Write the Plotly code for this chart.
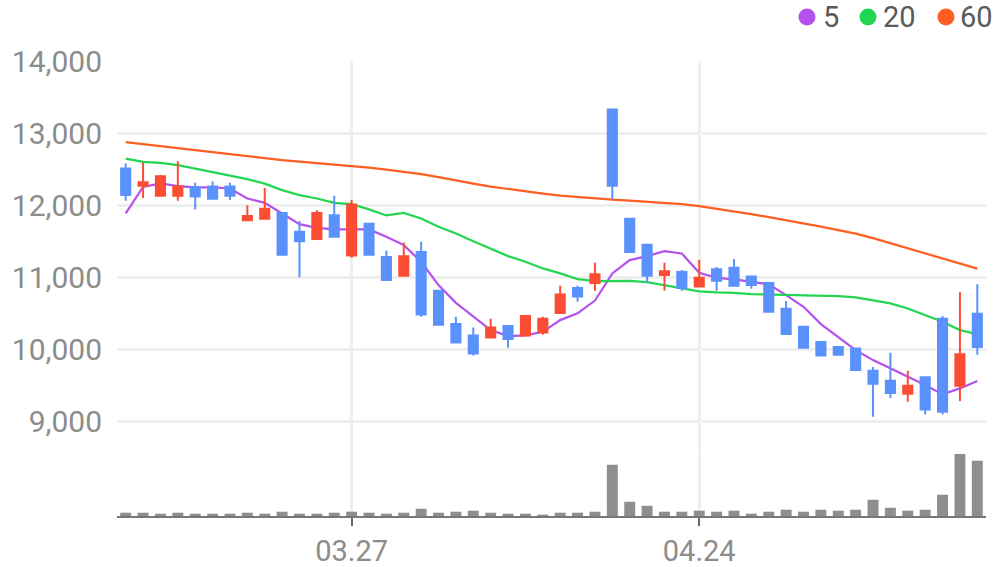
import plotly.graph_objects as go

dates = ["03.10", "03.11", "03.12", "03.13", "03.14", "03.17", "03.18", "03.19", "03.20", "03.21",
         "03.24", "03.25", "03.26", "03.27", "03.28", "03.31", "04.01", "04.02", "04.03", "04.04",
         "04.07", "04.08", "04.09", "04.10", "04.11", "04.14", "04.15", "04.16", "04.17", "04.18",
         "04.21", "04.22", "04.23", "04.24", "04.25", "04.28", "04.29", "04.30", "05.02", "05.07",
         "05.08", "05.09", "05.12", "05.13", "05.14", "05.15", "05.16", "05.19", "05.20", "05.21"]

open_ = [12510, 12270, 12130, 12130, 12250, 12260, 12260, 11790, 11810, 11890,
         11630, 11530, 11860, 11300, 11740, 11280, 11020, 11350, 10810, 10350,
         10190, 10160, 10320, 10190, 10230, 10500, 10850, 10920, 13330, 11810,
         11450, 11030, 11070, 10870, 11110, 11130, 11010, 10920, 10560, 10310,
         10100, 10030, 10010, 9700, 9560, 9380, 9610, 10420, 9490, 10490]
high = [12580, 12590, 12420, 12610, 12310, 12330, 12310, 12000, 12240, 11900,
        11780, 11930, 12130, 12070, 11750, 11370, 11480, 11490, 10810, 10450,
        10300, 10420, 10330, 10460, 10450, 10880, 10880, 11200, 13340, 11810,
        11450, 11200, 11100, 11240, 11140, 11250, 11020, 10920, 10670, 10310,
        10100, 10030, 10020, 9750, 9950, 9700, 9620, 10460, 10790, 10900]
low = [12060, 12100, 12120, 12060, 11940, 12080, 12070, 11780, 11800, 11300,
       11000, 11520, 11550, 11270, 11300, 10950, 11010, 10450, 10330, 10080,
       9910, 10150, 10020, 10180, 10200, 10490, 10660, 10810, 12080, 11350,
       10920, 10810, 10810, 10860, 10810, 10870, 10840, 10510, 10210, 10010,
       9900, 9910, 9710, 9060, 9320, 9270, 9090, 9090, 9280, 9920]
close = [12140, 12320, 12400, 12260, 12120, 12090, 12130, 11850, 11950, 11310,
         11500, 11890, 11560, 12010, 11310, 10960, 11290, 10480, 10340, 10090,
         9940, 10300, 10140, 10460, 10420, 10760, 10730, 11040, 12270, 11350,
         11020, 11080, 10850, 10990, 10950, 10880, 10890, 10520, 10210, 10020,
         9910, 9920, 9710, 9520, 9390, 9490, 9160, 9130, 9930, 10030]

ma5 = [11885, 12254, 12302, 12264, 12246, 12246, 12232, 12093, 12032, 11885,
       11736, 11685, 11663, 11663, 11663, 11560, 11445, 11213, 10889, 10643,
       10458, 10264, 10181, 10190, 10240, 10403, 10496, 10674, 11052, 11236,
       11292, 11361, 11329, 11060, 10990, 10968, 10935, 10899, 10750, 10588,
       10347, 10163, 9986, 9847, 9732, 9615, 9500, 9371, 9454, 9556]
ma20 = [12646, 12602, 12588, 12556, 12507, 12459, 12410, 12361, 12299, 12209,
        12139, 12093, 12032, 12014, 11941, 11857, 11893, 11816, 11699, 11607,
        11500, 11399, 11292, 11213, 11121, 11052, 10972, 10945, 10949, 10949,
        10931, 10889, 10852, 10802, 10788, 10782, 10764, 10760, 10750, 10746,
        10743, 10736, 10718, 10681, 10635, 10565, 10472, 10379, 10264, 10208]
ma60 = [12875, 12847, 12820, 12792, 12757, 12736, 12709, 12681, 12653, 12625,
        12604, 12584, 12563, 12542, 12521, 12493, 12466, 12431, 12389, 12341,
        12299, 12257, 12223, 12188, 12160, 12132, 12111, 12091, 12077, 12063,
        12049, 12035, 12014, 11986, 11952, 11917, 11875, 11834, 11792, 11750,
        11702, 11653, 11604, 11542, 11472, 11403, 11334, 11257, 11188, 11118]

volume = [66, 66, 46, 66, 46, 46, 46, 66, 46, 86,
          46, 46, 66, 86, 66, 46, 66, 146, 66, 86,
          106, 66, 46, 46, 26, 66, 66, 86, 1026, 286,
          206, 86, 86, 106, 86, 106, 46, 86, 126, 86,
          126, 106, 126, 326, 166, 106, 126, 426, 1246, 1106]

ma_names = ["5", "20", "60"]
ma_colors = ["#B451EC", "#23D652", "#FF5E22"]
x_ticks = ["03.27", "04.24"]
y_ticks = [9000, 10000, 11000, 12000, 13000, 14000]

RED = "#FA4D33"
BLUE = "#5B91FA"
GRAY_VOL = "#8E8E8E"

fig = go.Figure()

# volume
fig.add_trace(go.Bar(x=dates, y=volume, marker=dict(color=GRAY_VOL, line=dict(width=0)),
                     yaxis="y2", showlegend=False, hoverinfo="skip"))

# moving averages (under the candles)
for name, series, col in zip(ma_names, [ma5, ma20, ma60], ma_colors):
    fig.add_trace(go.Scatter(x=dates, y=series, mode="lines", line=dict(color=col, width=2.2),
                             showlegend=False, name=name, yaxis="y"))

# candles on overlay axis so they sit above the lines
fig.add_trace(go.Candlestick(
    x=dates, open=open_, high=high, low=low, close=close, yaxis="y3",
    increasing=dict(line=dict(color=RED, width=2), fillcolor=RED),
    decreasing=dict(line=dict(color=BLUE, width=2), fillcolor=BLUE),
    whiskerwidth=0, showlegend=False))

# legend drawn as circle shapes + text labels (top right)
L, R, T, B = 117, 986, 61, 516
def px_x(px):
    return (px - L) / (R - L)
def px_y(py):
    return (B - py) / (B - T)

legend_circle_px = [807, 868, 946]
legend_text_px = [822, 882, 959]
shapes = []
annotations = []
for name, col, cx, tx in zip(ma_names, ma_colors, legend_circle_px, legend_text_px):
    shapes.append(dict(type="circle", xref="paper", yref="paper",
                       xsizemode="pixel", ysizemode="pixel",
                       xanchor=px_x(cx), yanchor=px_y(17),
                       x0=-8.5, x1=8.5, y0=-8.5, y1=8.5,
                       fillcolor=col, line=dict(width=0)))
    annotations.append(dict(text=name, xref="paper", yref="paper",
                            x=px_x(tx), y=px_y(17), xanchor="left", yanchor="middle",
                            showarrow=False, borderpad=0,
                            font=dict(size=29, color="#5a5a5a")))

yr = [7681, 14003]
fig.update_layout(
    width=996, height=567,
    margin=dict(l=L, r=996 - R, t=T, b=567 - B, autoexpand=False),
    paper_bgcolor="white", plot_bgcolor="white",
    font=dict(family="Roboto, Arial, sans-serif", color="#8c8c8c"),
    boxgap=0.25, bargap=0.37,
    showlegend=False,
    shapes=shapes, annotations=annotations,
    xaxis=dict(type="category", categoryorder="array", categoryarray=dates,
               range=[-0.5, len(dates) - 0.5], tickvals=x_ticks, ticktext=x_ticks,
               showgrid=True, gridcolor="#efefef", gridwidth=3,
               showline=True, linecolor="#777777", linewidth=2,
               ticks="outside", ticklen=8, tickwidth=2, tickcolor="#666666",
               tickfont=dict(size=29, color="#8c8c8c"),
               rangeslider=dict(visible=False), fixedrange=True),
    yaxis=dict(range=yr, tickvals=y_ticks, tickformat=",d",
               showgrid=True, gridcolor="#efefef", gridwidth=3, zeroline=False,
               tickfont=dict(size=30, color="#8c8c8c"), ticklabelstandoff=14,
               fixedrange=True),
    yaxis2=dict(domain=[0, 0.137], range=[0, max(volume)], visible=False, anchor="x",
                fixedrange=True),
    yaxis3=dict(range=yr, overlaying="y", visible=False, fixedrange=True),
)

fig.write_html("out.html")
